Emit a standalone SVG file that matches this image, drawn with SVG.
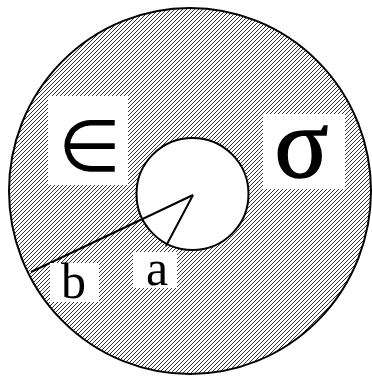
<svg xmlns="http://www.w3.org/2000/svg" width="372" height="378" viewBox="0 0 372 378">
  <defs>
    <pattern id="hatch" patternUnits="userSpaceOnUse" width="4" height="4">
      <path d="M-1,5 L5,-1 M-1,1 L1,-1 M3,5 L5,3" stroke="#000" stroke-width="0.8"/>
    </pattern>
  </defs>
  <style>
    .edge{fill:none;stroke:#000;stroke-width:2}
    .box{fill:#fff;stroke:none}
    .serif{font-family:"Liberation Serif","Times New Roman",serif;fill:#000;text-anchor:middle}
    .sans{font-family:"DejaVu Sans",sans-serif;fill:#000;text-anchor:middle}
  </style>
  <rect width="372" height="378" fill="#fff"/>
  <g id="outer">
    <ellipse cx="190" cy="191" rx="181" ry="183" fill="url(#hatch)" stroke="#000" stroke-width="2"/>
  </g>
  <g id="inner">
    <circle cx="192.5" cy="194" r="56" fill="#fff" stroke="#000" stroke-width="2"/>
  </g>
  <g id="connectors">
    <line class="edge" x1="193" y1="195" x2="31" y2="272"/>
    <line class="edge" x1="193" y1="195" x2="166" y2="246"/>
  </g>
  <g id="label-epsilon">
    <rect class="box" x="48" y="96" width="80" height="89"/>
    <text class="sans" x="89.5" y="171" font-size="72">∈</text>
  </g>
  <g id="label-sigma">
    <rect class="box" x="263" y="114" width="82" height="75"/>
    <text class="serif" x="301.5" y="177" font-size="100" stroke="#000" stroke-width="1.5">σ</text>
  </g>
  <g id="label-b">
    <rect class="box" x="50" y="263" width="49" height="39"/>
    <text class="serif" x="73.5" y="298" font-size="50">b</text>
  </g>
  <g id="label-a">
    <rect class="box" x="133" y="252" width="44" height="36"/>
    <text class="serif" x="157" y="285" font-size="50">a</text>
  </g>
</svg>
